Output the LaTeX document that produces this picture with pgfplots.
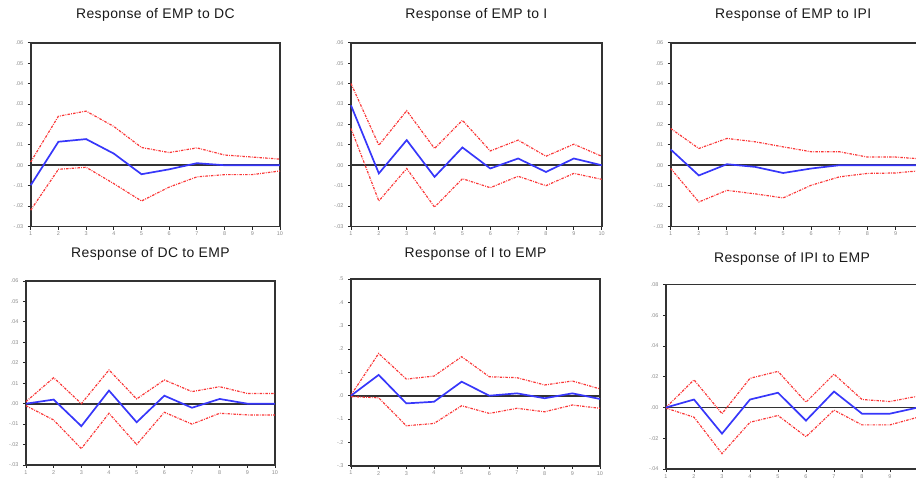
\documentclass[border=0pt]{standalone}
\usepackage{pgfplots}
\pgfplotsset{compat=1.18}
\usepackage{fontspec}
\setmainfont{Liberation Sans}
\newfontfamily\titlefont[LetterSpace=3]{Liberation Sans}
\definecolor{irfblue}{RGB}{55,55,250}
\definecolor{irfred}{RGB}{250,55,55}
\pgfplotsset{
  irf/.style={
    scale only axis,
    xmin=1, xmax=10,
    xtick={1,...,10},
    xticklabels={1,2,3,4,5,6,7,8,9,10},
    xtick pos=bottom, ytick pos=left,
    scaled y ticks=false,
    tick align=outside,
    major tick length=3bp,
    tick style={black!85, line width=0.9bp},
    axis line style={black!80, line width=1.9bp},
    ticklabel style={font=\fontsize{5.5}{6}\selectfont, text=black!45},
    xticklabel style={yshift=1bp},
    yticklabel style={xshift=-1bp},
    title style={font=\titlefont\fontsize{14}{15}\selectfont, text=black!90, at={(0.5,1)}, anchor=center},
    clip=false,
  },
  small/.style={ymin=-0.03, ymax=0.06, ytick={-0.03,-0.02,...,0.061},
    yticklabels={-.03,-.02,-.01,.00,.01,.02,.03,.04,.05,.06}},
  zl/.style={black!80, line width=1.8bp},
  bl/.style={irfblue, line width=1.7bp},
  rl/.style={irfred, line width=1.2bp, dash pattern=on 2.5bp off 1.2bp on 0.8bp off 1.2bp},
}
\begin{document}
\begin{tikzpicture}
\useasboundingbox (0,0) rectangle (916bp,-482bp);
% Panel 1: EMP to DC
\begin{axis}[irf, small, anchor=north west, at={(30.7bp,-42.7bp)}, width=249.3bp, height=183.8bp,
  title={Response of EMP to DC}, title style={yshift=22bp}]
\addplot[zl] coordinates {(1,0) (10,0)};
\addplot[rl] coordinates {(1,0.0016) (2,0.024) (3,0.0265) (4,0.019) (5,0.0087) (6,0.0062) (7,0.0085) (8,0.005) (9,0.004) (10,0.003)};
\addplot[rl] coordinates {(1,-0.022) (2,-0.002) (3,-0.001) (4,-0.009) (5,-0.0175) (6,-0.0107) (7,-0.0057) (8,-0.0046) (9,-0.0046) (10,-0.0028)};
\addplot[bl] coordinates {(1,-0.0098) (2,0.0115) (3,0.0128) (4,0.0057) (5,-0.0044) (6,-0.002) (7,0.001) (8,0) (9,0) (10,0)};
\end{axis}
% Panel 2: EMP to I
\begin{axis}[irf, small, anchor=north west, at={(351bp,-42.7bp)}, width=250.7bp, height=183.8bp,
  title={Response of EMP to I}, title style={yshift=22bp}]
\addplot[zl] coordinates {(1,0) (10,0)};
\addplot[rl] coordinates {(1,0.04) (2,0.0098) (3,0.0267) (4,0.0082) (5,0.022) (6,0.007) (7,0.0123) (8,0.0044) (9,0.0103) (10,0.0044)};
\addplot[rl] coordinates {(1,0.018) (2,-0.0175) (3,-0.0016) (4,-0.0205) (5,-0.0066) (6,-0.011) (7,-0.0054) (8,-0.01) (9,-0.004) (10,-0.0069)};
\addplot[bl] coordinates {(1,0.0293) (2,-0.004) (3,0.0123) (4,-0.0057) (5,0.0087) (6,-0.0016) (7,0.0033) (8,-0.0033) (9,0.0033) (10,0)};
\end{axis}
% Panel 3: EMP to IPI
\begin{axis}[irf, small, anchor=north west, at={(670.7bp,-42.7bp)}, width=253bp, height=183.8bp,
  xticklabels={1,2,3,4,5,6,7,8,9,{}},
  title={Response of EMP to IPI}, title style={yshift=22bp, xshift=-4bp}]
\addplot[zl] coordinates {(1,0) (10,0)};
\addplot[rl] coordinates {(1,0.018) (2,0.0082) (3,0.0131) (4,0.0115) (5,0.009) (6,0.0066) (7,0.0066) (8,0.004) (9,0.004) (10,0.003)};
\addplot[rl] coordinates {(1,-0.0016) (2,-0.018) (3,-0.0123) (4,-0.014) (5,-0.016) (6,-0.0098) (7,-0.0057) (8,-0.004) (9,-0.0038) (10,-0.0025)};
\addplot[bl] coordinates {(1,0.0077) (2,-0.005) (3,0.0005) (4,-0.0008) (5,-0.0038) (6,-0.0016) (7,0) (8,0) (9,0) (10,0)};
\end{axis}
% Panel 4: DC to EMP
\begin{axis}[irf, small, anchor=north west, at={(26bp,-281bp)}, width=249bp, height=184bp,
  title={Response of DC to EMP}, title style={yshift=21bp}]
\addplot[zl] coordinates {(1,0) (10,0)};
\addplot[rl] coordinates {(1,0.001) (2,0.0127) (3,0) (4,0.0165) (5,0.0023) (6,0.0116) (7,0.0059) (8,0.0083) (9,0.005) (10,0.005)};
\addplot[rl] coordinates {(1,-0.001) (2,-0.008) (3,-0.022) (4,-0.0047) (5,-0.020) (6,-0.0042) (7,-0.010) (8,-0.0047) (9,-0.0055) (10,-0.0055)};
\addplot[bl] coordinates {(1,0) (2,0.002) (3,-0.011) (4,0.0064) (5,-0.0091) (6,0.0039) (7,-0.002) (8,0.0023) (9,0) (10,0)};
\end{axis}
% Panel 5: I to EMP
\begin{axis}[irf, anchor=north west, at={(351bp,-279bp)}, width=249bp, height=186.7bp,
  ymin=-0.3, ymax=0.5, ytick={-0.3,-0.2,...,0.51},
  yticklabels={-.3,-.2,-.1,.0,.1,.2,.3,.4,.5},
  title={Response of I to EMP}, title style={yshift=19bp}]
\addplot[zl] coordinates {(1,0) (10,0)};
\addplot[rl] coordinates {(1,0.003) (2,0.181) (3,0.071) (4,0.084) (5,0.167) (6,0.081) (7,0.077) (8,0.046) (9,0.063) (10,0.029)};
\addplot[rl] coordinates {(1,-0.004) (2,-0.009) (3,-0.129) (4,-0.119) (5,-0.043) (6,-0.076) (7,-0.054) (8,-0.069) (9,-0.04) (10,-0.054)};
\addplot[bl] coordinates {(1,0) (2,0.089) (3,-0.033) (4,-0.026) (5,0.06) (6,0) (7,0.01) (8,-0.011) (9,0.01) (10,-0.014)};
\end{axis}
% Panel 6: IPI to EMP
\begin{axis}[irf, anchor=north west, at={(666bp,-284.5bp)}, width=252bp, height=184.5bp,
  xticklabels={1,2,3,4,5,6,7,8,9,{}},
  ymin=-0.04, ymax=0.08, ytick={-0.04,-0.02,...,0.081},
  yticklabels={-.04,-.02,.00,.02,.04,.06,.08},
  title={Response of IPI to EMP}, title style={yshift=19.5bp}]
\addplot[zl] coordinates {(1,0) (10,0)};
\addplot[rl] coordinates {(1,0) (2,0.018) (3,-0.004) (4,0.019) (5,0.0235) (6,0.0035) (7,0.0217) (8,0.0052) (9,0.0039) (10,0.0074)};
\addplot[rl] coordinates {(1,-0.0004) (2,-0.0063) (3,-0.030) (4,-0.0096) (5,-0.0052) (6,-0.019) (7,-0.0017) (8,-0.0113) (9,-0.0113) (10,-0.0063)};
\addplot[bl] coordinates {(1,0) (2,0.0052) (3,-0.017) (4,0.0052) (5,0.0096) (6,-0.0085) (7,0.0104) (8,-0.004) (9,-0.004) (10,0)};
\end{axis}
\end{tikzpicture}
\end{document}
